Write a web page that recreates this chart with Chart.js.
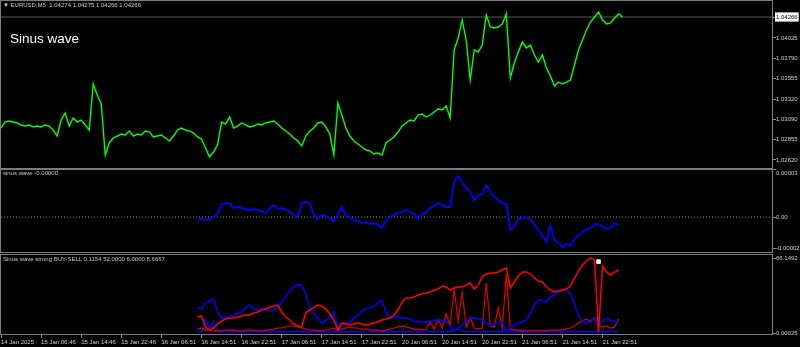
<!DOCTYPE html>
<html>
<head>
<meta charset="utf-8">
<script src="https://cdn.jsdelivr.net/npm/chart.js@4.4.1/dist/chart.umd.min.js"></script>
<style>
  html, body { margin: 0; padding: 0; background: #000; }
  #wrap { position: relative; width: 800px; height: 347px; overflow: hidden; background: #000; }
  canvas { position: absolute; left: 0; }
  .lbl { position: absolute; color: #c8c8c8; font-family: "Liberation Sans", Arial, sans-serif;
         font-size: 6px; line-height: 6px; white-space: nowrap; }
  #title { color: #fff; font-size: 13.5px; line-height: 13.5px; left: 10px; top: 32px; }
</style>
</head>
<body>
<div id="wrap">
  <canvas id="pricePane" width="800" height="169" style="top:0"></canvas>
  <canvas id="sinPane" width="800" height="84" style="top:169px"></canvas>
  <canvas id="strongPane" width="800" height="93" style="top:254px"></canvas>
  <div class="lbl" style="left:3px;top:1.6px">&#9660; EURUSD,M5&nbsp; 1.04274 1.04275 1.04266 1.04266</div>
  <div class="lbl" id="title">Sinus wave</div>
  <div class="lbl" style="left:3px;top:170.4px">sinus wave -0.00000</div>
  <div class="lbl" style="left:3px;top:255.6px">Sinus wave strong BUY-SELL 0.1154 52.0000 6.0000 8.6667</div>
</div>
<script>
// x unit = one sample (~48 min of M5 bars); time labels every 10 samples
const xMax = 192.5;
const timeTicks = [0, 10, 20, 30, 40, 50, 60, 70, 80, 90, 100, 110, 120, 130, 140, 150];
const timeLabels = ['14 Jan 2025', '15 Jan 06:46', '15 Jan 14:46', '15 Jan 22:46', '16 Jan 06:51',
    '16 Jan 14:51', '16 Jan 22:51', '17 Jan 06:51', '17 Jan 14:51', '17 Jan 22:51', '20 Jan 06:51',
    '20 Jan 14:51', '20 Jan 22:51', '21 Jan 06:51', '21 Jan 14:51', '21 Jan 22:51'];

// EURUSD M5 close, starting at sample 0
const prices = [
    1.02987, 1.03056, 1.03068, 1.03056, 1.03045, 1.03022, 1.03010, 1.03022, 1.02999, 1.03010,
    1.02999, 1.03022, 1.03010, 1.02964, 1.02895, 1.03079, 1.03160, 1.03010, 1.03103, 1.03056,
    1.03079, 1.03022, 1.02964, 1.03494, 1.03367, 1.03264, 1.02676, 1.02815, 1.02872, 1.02895,
    1.02918, 1.02907, 1.02953, 1.02895, 1.02918, 1.02907, 1.02953, 1.02941, 1.02884, 1.02895,
    1.02907, 1.02872, 1.02838, 1.02895, 1.02964, 1.02987, 1.02964, 1.02953, 1.02930, 1.02884,
    1.02861, 1.02757, 1.02653, 1.02711, 1.02792, 1.03056, 1.03033, 1.03114, 1.02987, 1.03010,
    1.03045, 1.03022, 1.02999, 1.03010, 1.03033, 1.03022, 1.03045, 1.03056, 1.03068, 1.03033,
    1.02987, 1.02953, 1.02918, 1.02872, 1.02838, 1.02780, 1.02895, 1.02953, 1.02987, 1.03045,
    1.03056, 1.02999, 1.02918, 1.02676, 1.03275, 1.03137, 1.02987, 1.02895, 1.02838, 1.02803,
    1.02768, 1.02734, 1.02722, 1.02688, 1.02699, 1.02676, 1.02815, 1.02849, 1.02884, 1.02941,
    1.03010, 1.03045, 1.03079, 1.03068, 1.03137, 1.03149, 1.03114, 1.03137, 1.03172, 1.03206,
    1.03195, 1.03241, 1.03103, 1.03886, 1.04024, 1.04231, 1.04001, 1.03540, 1.03886, 1.03863,
    1.03943, 1.04289, 1.04151, 1.04139, 1.04151, 1.04185, 1.04301, 1.03563, 1.03736, 1.03863,
    1.03978, 1.03909, 1.03943, 1.03828, 1.03748, 1.03828, 1.03679, 1.03586, 1.03471, 1.03517,
    1.03494, 1.03517, 1.03540, 1.03713, 1.03886, 1.04001, 1.04116, 1.04208, 1.04266, 1.04324,
    1.04231, 1.04185, 1.04197, 1.04254, 1.04301, 1.04266
];
const bidPrice = 1.04266;
const priceTicks = [1.04266, 1.04025, 1.03790, 1.03555, 1.03320, 1.03090, 1.02855, 1.02620];
const priceTickLabels = ['1.04266', '1.04025', '1.03790', '1.03555', '1.03320', '1.03090', '1.02855', '1.02620'];

// indicators start at this sample
const indStart = 49;

// sinus wave, in units of 0.00001
const sinWave = [
    -0.06, -0.13, -0.19, -0.13, 0, 0.19, 0.83, 0.89, 0.89, 0.57,
    0.64, 0.57, 0.51, 0.45, 0.51, 0.45, 0.38, 0.25, 0.57, 0.76,
    0.51, 0.57, 0.45, 0.32, 0.13, 0, 0.89, 0.96, 0.89, 0.13,
    -0.13, 0.13, 0.06, -0.06, -0.32, 0.19, 0.64, 0.06, 0, -0.19,
    -0.25, -0.38, -0.32, -0.45, -0.38, -0.51, -0.70, -0.25, 0, 0.13,
    0.25, 0.32, 0.45, 0.32, 0.19, -0.13, 0.13, 0.32, 0.57, 0.70,
    0.89, 0.76, 0.64, 0.64, 2.23, 2.61, 2.23, 1.85, 1.59, 1.08,
    1.40, 1.47, 2.04, 1.59, 1.27, 1.08, 0.89, 0.83, -0.83, -0.57,
    -0.13, -0.06, 0, -0.13, -0.51, -0.83, -1.21, -1.59, -0.57, -1.47,
    -1.66, -1.91, -1.72, -1.78, -1.40, -1.15, -0.96, -0.76, -0.70, -0.45,
    -0.45, -0.64, -0.76, -0.70, -0.38, -0.51
];
const sinTicks = [3, 0, -2];
// the top label sits just inside the pane
const sinTickLabels = [['', '0.00003'], '0.00', '-0.00002'];

// sinus wave strong BUY-SELL
const sellLine = [
    14.1, 15.0, 5.3, 2.6, 4.4, 7.9, 10.6, 12.3, 13.2, 13.2,
    14.1, 15.0, 15.9, 15.9, 17.6, 18.5, 20.3, 21.2, 22.9, 23.8,
    24.7, 18.5, 14.1, 11.5, 7.9, 6.2, 5.3, 17.6, 20.3, 22.1,
    24.7, 23.8, 21.2, 16.8, 11.5, 2.6, 8.8, 7.9, 7.1, 7.9,
    8.8, 7.9, 7.1, 7.9, 8.8, 9.7, 11.5, 12.3, 13.2, 15.9,
    20.3, 27.3, 30.9, 30.9, 31.8, 33.5, 34.4, 35.3, 36.2, 37.9,
    38.8, 41.5, 40.6, 37.9, 39.7, 40.6, 40.6, 42.3, 44.1, 38.8,
    42.3, 49.4, 52.0, 52.9, 52.9, 53.8, 55.6, 57.3, 39.7, 45.0,
    50.3, 53.8, 53.8, 52.0, 48.5, 45.9, 45.0, 40.6, 37.9, 36.2,
    37.0, 37.9, 38.8, 41.5, 48.5, 54.7, 60.0, 63.5, 66.2, 64.4,
    0.9, 59.1, 53.8, 51.2, 53.8, 55.6
];
const buyLine = [
    22.1, 21.2, 26.5, 28.2, 30.0, 18.5, 13.2, 14.1, 14.1, 15.9,
    17.6, 18.5, 22.1, 24.7, 21.2, 20.3, 22.1, 21.2, 19.4, 19.4,
    22.9, 27.3, 32.6, 37.0, 40.6, 42.3, 42.3, 34.4, 22.9, 16.8,
    13.2, 8.8, 11.5, 13.2, 18.5, 5.3, 7.1, 8.8, 9.7, 13.2,
    15.9, 19.4, 21.2, 22.1, 23.8, 26.5, 29.1, 17.6, 14.1, 14.1,
    14.1, 13.2, 13.2, 12.3, 10.6, 9.7, 9.7, 9.7, 10.6, 11.5,
    11.5, 10.6, 9.7, 6.2, 1.8, 4.4, 7.1, 10.6, 13.2, 13.2,
    12.3, 11.5, 8.8, 7.1, 7.9, 8.8, 8.8, 1.8, 5.3, 7.1,
    8.8, 9.7, 11.5, 17.6, 24.7, 29.1, 29.1, 27.3, 31.8, 33.5,
    36.2, 37.9, 38.8, 34.4, 25.6, 15.0, 10.6, 8.8, 11.5, 13.2,
    7.1, 10.6, 13.2, 11.5, 9.7, 9.7
];
const sellSignal = [
    3.5, 4.4, 2.6, 2.6, 1.8, 1.8, 1.8, 2.6, 2.6, 2.6,
    1.8, 1.8, 2.6, 2.6, 2.6, 1.8, 1.8, 2.6, 2.6, 3.5,
    4.4, 4.4, 5.3, 6.2, 6.2, 5.3, 4.4, 3.5, 2.6, 2.6,
    1.8, 1.8, 2.6, 3.5, 4.4, 2.6, 3.5, 4.4, 5.3, 4.4,
    4.4, 3.5, 3.5, 2.6, 2.6, 2.6, 1.8, 2.6, 3.5, 4.4,
    5.3, 6.2, 5.3, 4.4, 3.5, 3.5, 2.6, 3.5, 9.7, 3.5,
    12.3, 4.4, 16.8, 7.1, 38.8, 10.6, 36.2, 5.3, 14.1, 4.4,
    3.5, 4.4, 44.1, 6.2, 5.3, 22.1, 4.4, 52.0, 3.5, 2.6,
    2.6, 1.8, 1.8, 1.8, 1.8, 1.8, 1.8, 1.8, 2.6, 2.6,
    2.6, 2.6, 3.5, 4.4, 6.2, 8.8, 10.6, 12.3, 9.7, 14.1,
    6.2, 5.3, 6.2, 4.4, 5.3, 12.3
];
const buySignal = [
    1.1, 1.1, 12.0, 4.0, 10.0, 1.1, 1.1, 1.1, 1.1, 1.1,
    1.1, 1.1, 1.1, 1.1, 1.1, 1.1, 1.1, 1.1, 1.1, 1.1,
    1.1, 1.1, 1.1, 1.1, 1.1, 1.1, 1.1, 1.1, 1.1, 1.1,
    1.1, 1.1, 1.1, 1.1, 1.1, 1.1, 1.1, 1.1, 1.1, 1.1,
    1.1, 1.1, 1.1, 1.1, 1.1, 1.1, 1.1, 1.1, 1.1, 1.1,
    1.1, 1.1, 1.1, 1.1, 1.1, 1.1, 1.1, 1.1, 1.1, 1.1,
    1.1, 1.1, 1.1, 1.1, 2.6, 3.5, 1.8, 1.1, 1.1, 1.1,
    1.1, 1.1, 1.1, 1.1, 1.1, 1.1, 1.1, 1.1, 1.1, 1.1,
    1.1, 1.1, 1.1, 1.1, 1.1, 1.1, 1.1, 1.1, 1.1, 1.1,
    1.1, 1.1, 1.1, 1.1, 1.1, 1.1, 1.1, 1.1, 1.1, 1.1,
    1.1, 1.1, 1.1, 1.1, 1.1, 1.1
];
const arrowAt = [149];
const arrowValue = [63];
const strongTicks = [66.1492, 0.00025];
const strongTickLabels = ['66.1492', '0.00025'];

Chart.defaults.font.family = '"Liberation Sans", Arial, sans-serif';
Chart.defaults.font.size = 6;
Chart.defaults.color = '#cccccc';

const toPoints = (values, start) => values.map((v, i) => ({ x: start + i, y: v }));

// grey frame round each pane
const paneFrame = {
    id: 'paneFrame',
    afterDraw(chart) {
        const { ctx, chartArea: a } = chart;
        ctx.save();
        ctx.strokeStyle = '#7c7c7c';
        ctx.lineWidth = 1;
        ctx.strokeRect(a.left - 0.5, a.top + 0.5, a.right - a.left, a.bottom - a.top - 1);
        ctx.restore();
    }
};

// no extra room for edge labels: panes fill their canvas
function noPadding(scale) {
    scale.paddingTop = 0;
    scale.paddingBottom = 0;
    scale.paddingLeft = 0;
    scale.paddingRight = 0;
}

function yAxis(min, max, ticks, labels, extra) {
    return Object.assign({
        position: 'right',
        min: min,
        max: max,
        afterBuildTicks: (scale) => { scale.ticks = ticks.map(v => ({ value: v })); },
        afterFit: (scale) => { scale.width = 27; noPadding(scale); },
        border: { display: false },
        grid: { drawOnChartArea: false, drawTicks: true, tickLength: 3, color: '#8a8a8a' },
        ticks: { padding: 0, color: '#d0d0d0', callback: (v, i) => labels[i] }
    }, extra || {});
}

function hiddenX() {
    return { type: 'linear', min: 0, max: xMax, display: false };
}

const baseOptions = {
    responsive: false,
    animation: false,
    events: [],
    layout: { autoPadding: false, padding: { left: 1, right: 0, top: 0, bottom: 0 } },
    plugins: { legend: { display: false }, tooltip: { enabled: false } },
    elements: { point: { radius: 0 }, line: { tension: 0 } }
};

new Chart(document.getElementById('pricePane'), {
    type: 'line',
    data: {
        datasets: [
            { data: toPoints(prices, 0), borderColor: '#00ff00', borderWidth: 1.4 },
            { data: [{ x: 0, y: bidPrice }, { x: xMax, y: bidPrice }], borderColor: '#5a5a5a', borderWidth: 1 }
        ]
    },
    options: Object.assign({}, baseOptions, {
        scales: {
            x: hiddenX(),
            y: yAxis(1.02515, 1.04462, priceTicks, priceTickLabels, {
                ticks: {
                    padding: 0,
                    callback: (v, i) => priceTickLabels[i],
                    color: (c) => c.index === 0 ? '#000000' : '#d0d0d0',
                    showLabelBackdrop: (c) => c.index === 0,
                    backdropColor: '#ffffff',
                    backdropPadding: 1
                }
            })
        }
    }),
    plugins: [paneFrame]
});

new Chart(document.getElementById('sinPane'), {
    type: 'line',
    data: {
        datasets: [
            { data: toPoints(sinWave, indStart), borderColor: '#0000ff', borderWidth: 1.8 },
            { data: [{ x: 0, y: 0 }, { x: xMax, y: 0 }], borderColor: '#a08a2a', borderWidth: 1, borderDash: [1, 2] }
        ]
    },
    options: Object.assign({}, baseOptions, {
        scales: {
            x: hiddenX(),
            y: yAxis(-2.29, 3.06, sinTicks, sinTickLabels)
        }
    }),
    plugins: [paneFrame]
});

new Chart(document.getElementById('strongPane'), {
    type: 'line',
    data: {
        datasets: [
            { type: 'scatter', data: arrowAt.map((x, i) => ({ x: x, y: arrowValue[i] })),
              pointStyle: 'rect', pointRadius: 2.5, backgroundColor: '#ffffff', borderColor: '#ffffff' },
            { data: toPoints(sellLine, indStart), borderColor: '#ff0000', borderWidth: 1.5 },
            { data: toPoints(buyLine, indStart), borderColor: '#0000ff', borderWidth: 1.5 },
            { data: toPoints(sellSignal, indStart), borderColor: '#e00000', borderWidth: 1.2 },
            { data: toPoints(buySignal, indStart), borderColor: '#0000ff', borderWidth: 1.4 }
        ]
    },
    options: Object.assign({}, baseOptions, {
        scales: {
            x: {
                type: 'linear',
                min: 0,
                max: xMax,
                afterBuildTicks: (scale) => { scale.ticks = timeTicks.map(v => ({ value: v })); },
                afterFit: (scale) => { scale.height = 12; noPadding(scale); },
                border: { display: false },
                grid: { drawOnChartArea: false, drawTicks: true, tickLength: 3, color: '#8a8a8a' },
                ticks: {
                    align: 'start',
                    padding: 1,
                    maxRotation: 0,
                    autoSkip: false,
                    color: '#d0d0d0',
                    callback: (v, i) => timeLabels[i]
                }
            },
            y: yAxis(-1.76, 69.7, strongTicks, strongTickLabels)
        }
    }),
    plugins: [paneFrame]
});
</script>
</body>
</html>
